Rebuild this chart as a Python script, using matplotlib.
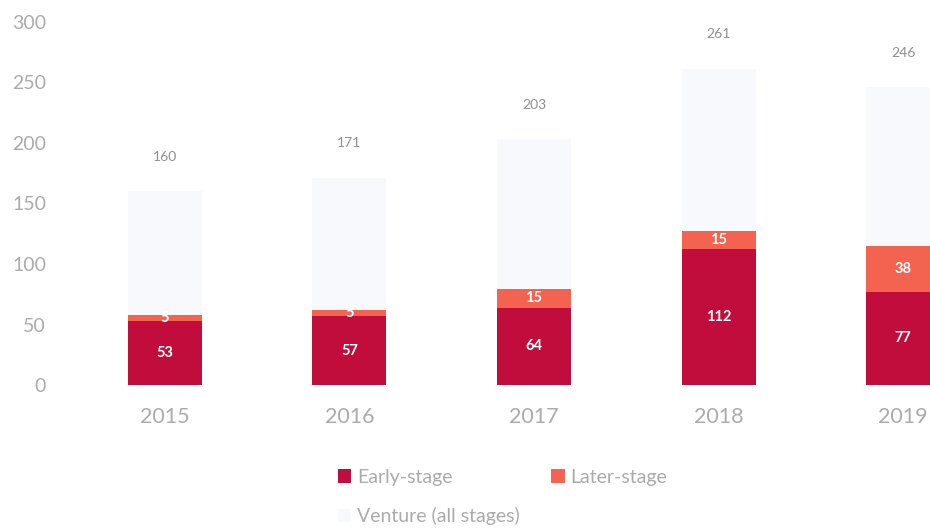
import matplotlib
matplotlib.use("Agg")
import matplotlib.pyplot as plt
import numpy as np

years = ["2015", "2016", "2017", "2018", "2019"]
early = [53, 57, 64, 112, 77]
later = [5, 5, 15, 15, 38]
venture = [160, 171, 203, 261, 246]
yticks = [0, 50, 100, 150, 200, 250, 300]

c_early = "#c00d3c"
c_later = "#f4634f"
c_vent = "#f8f9fc"
grey = "#ababab"

plt.rcParams['font.family'] = ['Lato', 'DejaVu Sans']

fig = plt.figure(figsize=(9.3, 5.29), dpi=100)
ax = fig.add_axes([72.5 / 930, (529 - 385) / 529, 923 / 930, 363 / 529])

x = np.arange(len(years))
w = 0.4
bv = ax.bar(x, venture, w, color=c_vent, label="Venture (all stages)", zorder=1)
be = ax.bar(x, early, w, color=c_early, label="Early-stage", zorder=2)
bl = ax.bar(x, later, w, bottom=early, color=c_later, label="Later-stage", zorder=2)

for i in range(len(years)):
    ax.text(x[i], early[i] / 2, str(early[i]), ha="center", va="center",
            color="white", fontsize=10.5, fontweight="bold", zorder=3)
    ax.text(x[i], early[i] + later[i] / 2, str(later[i]), ha="center", va="center",
            color="white", fontsize=10.5, fontweight="bold", zorder=3)
    ax.annotate(str(venture[i]), (x[i], venture[i]), xytext=(0, 25),
                textcoords="offset points", ha="center", va="center",
                color="#8f8f8f", fontsize=10)

ax.set_xlim(-0.5, 4.5)
ax.set_ylim(0, 300)
ax.set_yticks(yticks)
ax.set_xticks(x)
ax.set_xticklabels(years)
for s in ax.spines.values():
    s.set_visible(False)
ax.tick_params(axis="y", length=0, pad=19, labelsize=14, labelcolor=grey)
ax.tick_params(axis="x", length=0, pad=16, labelsize=15.5, labelcolor=grey)

handles = [be, bv, bl]
labels = ["Early-stage", "Venture (all stages)", "Later-stage"]
fig.legend(handles, labels, ncol=2, loc="upper left",
           bbox_to_anchor=(328 / 930, 1 - 459 / 529), frameon=False,
           fontsize=14, labelcolor=grey, handlelength=0.7, handleheight=0.7,
           handletextpad=0.3, labelspacing=1.1, columnspacing=1.6, borderpad=0)

fig.savefig("out.png", dpi=100)
